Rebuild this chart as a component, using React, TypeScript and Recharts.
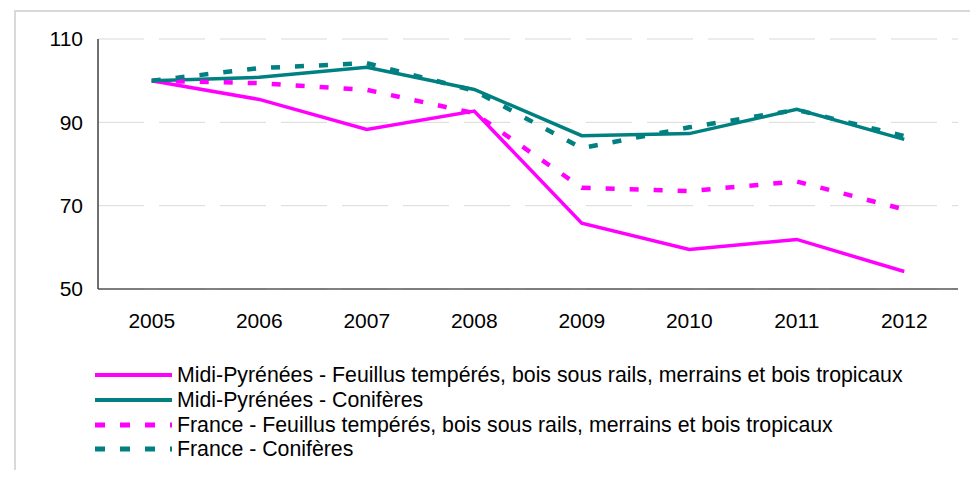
import { LineChart, Line, XAxis, YAxis, CartesianGrid } from "recharts";

const years = ["2005", "2006", "2007", "2008", "2009", "2010", "2011", "2012"];
const mpFeuillus = [100, 95.5, 88.3, 92.7, 65.8, 59.5, 61.9, 54.2];
const mpConiferes = [100, 100.8, 103.2, 97.9, 86.8, 87.3, 93.1, 85.9];
const frFeuillus = [100, 99.4, 97.8, 92.2, 74.3, 73.5, 75.8, 69.1];
const frConiferes = [100, 103, 104.2, 97.6, 83.8, 88.8, 93, 86.7];
const yTicks = [50, 70, 90, 110];

const series = [
  { key: "mpF", name: "Midi-Pyrénées - Feuillus tempérés, bois sous rails, merrains et bois tropicaux", color: "#ff00ff", dashed: false },
  { key: "mpC", name: "Midi-Pyrénées - Conifères", color: "#008080", dashed: false },
  { key: "frF", name: "France - Feuillus tempérés, bois sous rails, merrains et bois tropicaux", color: "#ff00ff", dashed: true },
  { key: "frC", name: "France - Conifères", color: "#008080", dashed: true },
];

const data = years.map((y, i) => ({
  year: y,
  mpF: mpFeuillus[i],
  mpC: mpConiferes[i],
  frF: frFeuillus[i],
  frC: frConiferes[i],
}));

const font = "'Liberation Sans', Arial, sans-serif";

export default function App() {
  return (
    <div style={{ position: "relative", width: 962, height: 462, fontFamily: font }}>
      <div
        style={{
          position: "absolute",
          left: 6,
          top: 2,
          width: 1000,
          height: 500,
          border: "2px solid #d9d9d9",
        }}
      />
      <div style={{ position: "absolute", left: 0, top: 0 }}>
        <LineChart width={960} height={340} data={data} margin={{ top: 31, right: 10, left: 0, bottom: 19 }}>
          <CartesianGrid vertical={false} stroke="#d9d9d9" strokeDasharray="46 15" />
          <XAxis
            dataKey="year"
            height={40}
            padding={{ left: 53.75, right: 53.75 }}
            tickSize={0}
            tickMargin={24}
            tick={{ fontSize: 21, fill: "#000", fontFamily: font }}
            axisLine={{ stroke: "#595959", strokeWidth: 1.5 }}
          />
          <YAxis
            width={90}
            domain={[50, 110]}
            ticks={yTicks}
            tickSize={0}
            tickMargin={15}
            tick={{ fontSize: 21, fill: "#000", fontFamily: font }}
            axisLine={{ stroke: "#404040", strokeWidth: 1.5 }}
          />
          {series.map((s) => (
            <Line
              key={s.key}
              dataKey={s.key}
              name={s.name}
              type="linear"
              stroke={s.color}
              strokeWidth={s.dashed ? 4.5 : 3.5}
              strokeDasharray={s.dashed ? "9 15" : undefined}
              dot={false}
              activeDot={false}
              isAnimationActive={false}
            />
          ))}
        </LineChart>
      </div>
      <div style={{ position: "absolute", left: 87, top: 355 }}>
        {series.map((s) => (
          <div key={s.key} style={{ display: "flex", alignItems: "center", height: 24.7 }}>
            <svg width={77} height={10} style={{ marginRight: 5, flexShrink: 0 }}>
              <line
                x1={0}
                y1={5}
                x2={77}
                y2={5}
                stroke={s.color}
                strokeWidth={s.dashed ? 5 : 4}
                strokeDasharray={s.dashed ? "10 15" : undefined}
              />
            </svg>
            <span style={{ fontSize: 21.3, color: "#000", whiteSpace: "nowrap", lineHeight: "24px" }}>{s.name}</span>
          </div>
        ))}
      </div>
    </div>
  );
}
